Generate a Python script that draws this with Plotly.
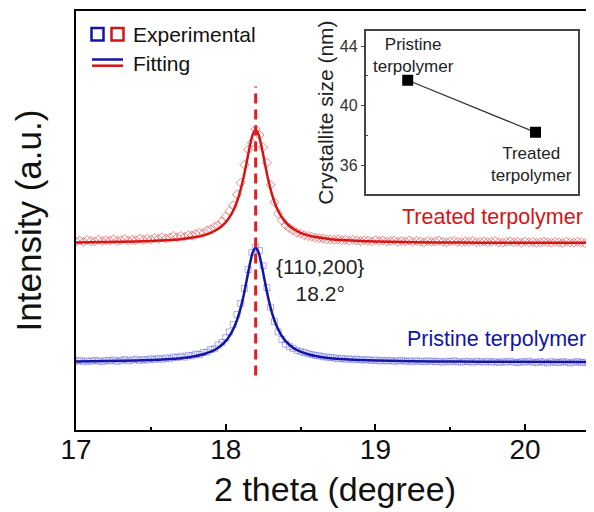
import plotly.graph_objects as go

# ---------------- data ----------------
two_theta_exp = [
    17.000, 17.025, 17.050, 17.075, 17.100, 17.125, 17.150, 17.175, 17.200, 17.225,
    17.250, 17.275, 17.300, 17.325, 17.350, 17.375, 17.400, 17.425, 17.450, 17.475,
    17.500, 17.525, 17.550, 17.575, 17.600, 17.625, 17.650, 17.675, 17.700, 17.725,
    17.750, 17.775, 17.800, 17.825, 17.850, 17.875, 17.900, 17.925, 17.950, 17.975,
    18.000, 18.025, 18.050, 18.075, 18.100, 18.125, 18.150, 18.175, 18.200, 18.225,
    18.250, 18.275, 18.300, 18.325, 18.350, 18.375, 18.400, 18.425, 18.450, 18.475,
    18.500, 18.525, 18.550, 18.575, 18.600, 18.625, 18.650, 18.675, 18.700, 18.725,
    18.750, 18.775, 18.800, 18.825, 18.850, 18.875, 18.900, 18.925, 18.950, 18.975,
    19.000, 19.025, 19.050, 19.075, 19.100, 19.125, 19.150, 19.175, 19.200, 19.225,
    19.250, 19.275, 19.300, 19.325, 19.350, 19.375, 19.400, 19.425, 19.450, 19.475,
    19.500, 19.525, 19.550, 19.575, 19.600, 19.625, 19.650, 19.675, 19.700, 19.725,
    19.750, 19.775, 19.800, 19.825, 19.850, 19.875, 19.900, 19.925, 19.950, 19.975,
    20.000, 20.025, 20.050, 20.075, 20.100, 20.125, 20.150, 20.175, 20.200, 20.225,
    20.250, 20.275, 20.300, 20.325, 20.350, 20.375, 20.400, 20.425, 20.450, 20.475,
    20.500,
]

pristine_exp = [
    16.4, 16.6, 16.3, 16.5, 16.4, 16.6, 16.5, 16.3, 16.6, 16.5,
    16.7, 16.4, 16.6, 16.8, 16.5, 16.7, 16.9, 16.6, 16.8, 16.7,
    17.0, 16.8, 17.1, 16.9, 17.2, 17.0, 17.4, 17.3, 17.6, 17.4,
    17.8, 17.7, 18.1, 18.0, 18.5, 18.6, 19.2, 19.4, 20.3, 20.9,
    22.0, 23.4, 25.2, 27.6, 30.2, 33.8, 38.3, 42.4, 43.6, 42.8,
    39.2, 34.0, 29.3, 25.9, 23.4, 21.6, 20.5, 19.9, 19.5, 19.0,
    18.7, 18.5, 18.2, 18.0, 17.8, 17.7, 17.5, 17.4, 17.3, 17.2,
    17.0, 17.1, 16.9, 17.0, 16.8, 16.9, 16.8, 16.7, 16.8, 16.6,
    16.7, 16.5, 16.6, 16.5, 16.6, 16.4, 16.5, 16.6, 16.4, 16.5,
    16.3, 16.5, 16.4, 16.3, 16.5, 16.4, 16.3, 16.4, 16.2, 16.4,
    16.3, 16.5, 16.3, 16.2, 16.4, 16.3, 16.2, 16.4, 16.3, 16.2,
    16.4, 16.2, 16.3, 16.1, 16.3, 16.2, 16.4, 16.2, 16.1, 16.3,
    16.2, 16.4, 16.2, 16.1, 16.3, 16.2, 16.0, 16.3, 16.2, 16.1,
    16.3, 16.2, 16.0, 16.2, 16.3, 16.1, 16.2, 16.0, 16.2, 16.1,
    16.2,
]

treated_exp = [
    45.0, 45.2, 44.9, 45.3, 45.1, 45.0, 45.4, 45.1, 45.3, 45.2,
    45.5, 45.1, 45.3, 45.6, 45.2, 45.4, 45.3, 45.7, 45.4, 45.6,
    45.5, 45.8, 45.6, 46.0, 45.7, 45.9, 46.3, 46.0, 46.3, 46.1,
    46.5, 46.4, 46.8, 47.1, 47.0, 47.6, 47.9, 48.5, 48.8, 49.8,
    50.9, 52.3, 53.6, 56.2, 59.0, 63.3, 66.9, 68.6, 71.8, 70.4,
    67.5, 63.8, 58.5, 54.4, 51.6, 50.0, 48.9, 48.2, 47.7, 47.1,
    46.9, 46.5, 46.3, 46.1, 45.9, 45.8, 45.7, 45.5, 45.5, 45.4,
    45.5, 45.3, 45.4, 45.2, 45.4, 45.3, 45.1, 45.3, 45.2, 45.0,
    45.3, 45.1, 45.2, 45.0, 45.1, 45.2, 44.9, 45.1, 45.0, 45.2,
    44.9, 45.1, 45.0, 44.8, 45.1, 44.9, 45.0, 45.2, 44.9, 44.8,
    45.0, 45.1, 44.9, 44.8, 45.0, 44.9, 45.1, 44.8, 44.9, 45.0,
    44.8, 44.9, 45.1, 44.8, 44.7, 44.9, 45.0, 44.8, 44.9, 44.7,
    45.0, 44.8, 44.9, 44.7, 44.8, 45.0, 44.8, 44.7, 44.9, 44.8,
    44.6, 44.9, 44.8, 44.7, 44.9, 44.8, 44.6, 44.8, 44.7, 44.9,
    44.7,
]

two_theta_fit = [
    17.0, 17.3, 17.5, 17.6, 17.7, 17.8, 17.85, 17.9, 17.95, 18.0,
    18.03, 18.06, 18.09, 18.12, 18.14, 18.16, 18.18, 18.2, 18.22, 18.24,
    18.26, 18.28, 18.31, 18.34, 18.37, 18.4, 18.45, 18.5, 18.55, 18.6,
    18.7, 18.8, 18.9, 19.1, 19.4, 19.7, 20.6,
]

pristine_fit = [
    16.37, 16.50, 16.69, 16.87, 17.15, 17.66, 18.07, 18.69, 19.65, 21.22,
    22.70, 24.80, 27.86, 32.17, 35.72, 39.38, 42.35, 43.50, 42.35, 39.38,
    35.72, 32.17, 27.86, 24.80, 22.70, 21.22, 19.65, 18.69, 18.07, 17.66,
    17.15, 16.87, 16.69, 16.50, 16.37, 16.31, 16.24,
]

treated_fit = [
    44.77, 44.90, 45.09, 45.26, 45.54, 46.04, 46.45, 47.06, 48.01, 49.57,
    51.03, 53.11, 56.13, 60.40, 63.91, 67.52, 70.47, 71.60, 70.47, 67.52,
    63.91, 60.40, 56.13, 53.11, 51.03, 49.57, 48.01, 47.06, 46.45, 46.04,
    45.54, 45.26, 45.09, 44.90, 44.77, 44.71, 44.65,
]

peak_position = 18.2
peak_marker_span = [13.0, 82.0]

inset_samples = ["Pristine<br>terpolymer", "Treated<br>terpolymer"]
inset_x = [1, 2]
crystallite_size = [41.7, 38.2]

x_ticks = [17, 18, 19, 20]

# ---------------- colours ----------------
BLUE = "rgb(20,20,165)"
RED = "rgb(215,20,20)"
BLUE_M = "rgba(70,70,215,0.45)"
RED_M = "rgba(225,40,40,0.55)"
FONT = "Arial, Liberation Sans, sans-serif"

fig = go.Figure()

fig.add_trace(go.Scatter(x=two_theta_exp, y=treated_exp, mode="markers",
                         marker=dict(symbol="diamond-open", size=7, color=RED_M,
                                     line=dict(width=1, color=RED_M)),
                         showlegend=False))
fig.add_trace(go.Scatter(x=two_theta_exp, y=pristine_exp, mode="markers",
                         marker=dict(symbol="square-open", size=6, color=BLUE_M,
                                     line=dict(width=1, color=BLUE_M)),
                         showlegend=False))
fig.add_trace(go.Scatter(x=two_theta_fit, y=treated_fit, mode="lines",
                         line=dict(color=RED, width=2.5, shape="spline", smoothing=0.6),
                         showlegend=False))
fig.add_trace(go.Scatter(x=two_theta_fit, y=pristine_fit, mode="lines",
                         line=dict(color=BLUE, width=2.5, shape="spline", smoothing=0.6),
                         showlegend=False))
fig.add_trace(go.Scatter(x=[peak_position, peak_position], y=peak_marker_span, mode="lines",
                         line=dict(color="rgb(225,30,30)", width=3, dash="10px,6px"),
                         showlegend=False))

# inset
fig.add_trace(go.Scatter(x=inset_x, y=crystallite_size, mode="lines+markers",
                         xaxis="x2", yaxis="y2",
                         line=dict(color="#333333", width=1.3),
                         marker=dict(symbol="square", size=11, color="black"),
                         showlegend=False))

# page body adds an 8px offset, so the figure is 8px smaller with 8px less left/top margin
fig.update_layout(
    width=586, height=504,
    margin=dict(l=68, r=0, t=3, b=82),
    paper_bgcolor="white", plot_bgcolor="white",
    font=dict(family=FONT, color="#222222"),
    showlegend=False,
    xaxis=dict(
        range=[17, 20.46], tickvals=x_ticks, ticktext=[str(v) for v in x_ticks],
        ticks="inside", ticklen=6, tickwidth=1.5, tickcolor="black",
        minor=dict(dtick=0.5, ticks="inside", ticklen=3, tickcolor="black", tickwidth=1.5),
        showline=True, linecolor="black", linewidth=2, mirror=True,
        showgrid=False, zeroline=False,
        tickfont=dict(size=28, color="#111111"),
        ticklabelstandoff=-7,
        title=dict(text="2 theta (degree)", font=dict(size=34, color="#111111"), standoff=14),
    ),
    yaxis=dict(
        range=[0, 100], showticklabels=False, ticks="",
        showline=True, linecolor="black", linewidth=2, mirror=False,
        showgrid=False, zeroline=False,
        title=dict(text="Intensity (a.u.)", font=dict(size=35, color="#111111"), standoff=22),
    ),
    xaxis2=dict(
        domain=[0.559, 0.9685], anchor="y2", range=[0.67, 2.33],
        showticklabels=False, ticks="", showgrid=False, zeroline=False,
        showline=True, linecolor="#444444", linewidth=1.5, mirror=True,
    ),
    yaxis2=dict(
        domain=[0.563, 0.952], anchor="x2", range=[34.05, 45.0],
        tickvals=[36, 40, 44], ticks="outside", ticklen=3, tickcolor="#444444",
        minor=dict(tickvals=[38, 42], ticks="inside", ticklen=3, tickcolor="#444444"),
        showgrid=False, zeroline=False,
        showline=True, linecolor="#444444", linewidth=1.5, mirror=True,
        tickfont=dict(size=16, color="#333333"),
        title=dict(text="Crystallite size (nm)", font=dict(size=21, color="#222222"), standoff=0),
    ),
)

# inset point labels
fig.add_annotation(x=inset_x[0], y=43.35, xref="x2", yref="y2", text=inset_samples[0],
                   showarrow=False, font=dict(size=17, color="#222222"), xshift=6)
fig.add_annotation(x=inset_x[1], y=36.05, xref="x2", yref="y2", text=inset_samples[1],
                   showarrow=False, font=dict(size=17, color="#222222"), xshift=-4)

# curve labels
fig.add_annotation(x=20.4, y=50.8, xref="x", yref="y", text="Treated terpolymer",
                   xanchor="right", showarrow=False, font=dict(size=21.5, color=RED))
fig.add_annotation(x=20.42, y=21.7, xref="x", yref="y", text="Pristine terpolymer",
                   xanchor="right", showarrow=False, font=dict(size=21.5, color=BLUE))
fig.add_annotation(x=18.63, y=35.7, xref="x", yref="y", text="{110,200}<br>18.2°",
                   showarrow=False, font=dict(size=21, color="#222222"))

# custom legend (paper coordinates; screen pixels of the plot area: x 76..594, y 11..430)
def px_x(p):
    return (p - 76) / 518.0

def px_y(p):
    return (430 - p) / 419.0

fig.add_shape(type="rect", xref="paper", yref="paper",
              x0=px_x(91.5), x1=px_x(103.5), y0=px_y(40.5), y1=px_y(28),
              line=dict(color="rgb(20,20,170)", width=2.5))
fig.add_shape(type="rect", xref="paper", yref="paper",
              x0=px_x(111.5), x1=px_x(123.5), y0=px_y(40.5), y1=px_y(28),
              line=dict(color="rgb(215,20,20)", width=2.5))
fig.add_shape(type="line", xref="paper", yref="paper",
              x0=px_x(92), x1=px_x(123), y0=px_y(59.5), y1=px_y(59.5),
              line=dict(color=BLUE, width=2.5))
fig.add_shape(type="line", xref="paper", yref="paper",
              x0=px_x(92), x1=px_x(123), y0=px_y(65.7), y1=px_y(65.7),
              line=dict(color=RED, width=2.5))
fig.add_annotation(x=px_x(131), y=px_y(34), xref="paper", yref="paper", text="Experimental",
                   xanchor="left", yanchor="middle", showarrow=False,
                   font=dict(size=21, color="#111111"))
fig.add_annotation(x=px_x(131), y=px_y(63), xref="paper", yref="paper", text="Fitting",
                   xanchor="left", yanchor="middle", showarrow=False,
                   font=dict(size=21, color="#111111"))

fig.write_html("out.html")
